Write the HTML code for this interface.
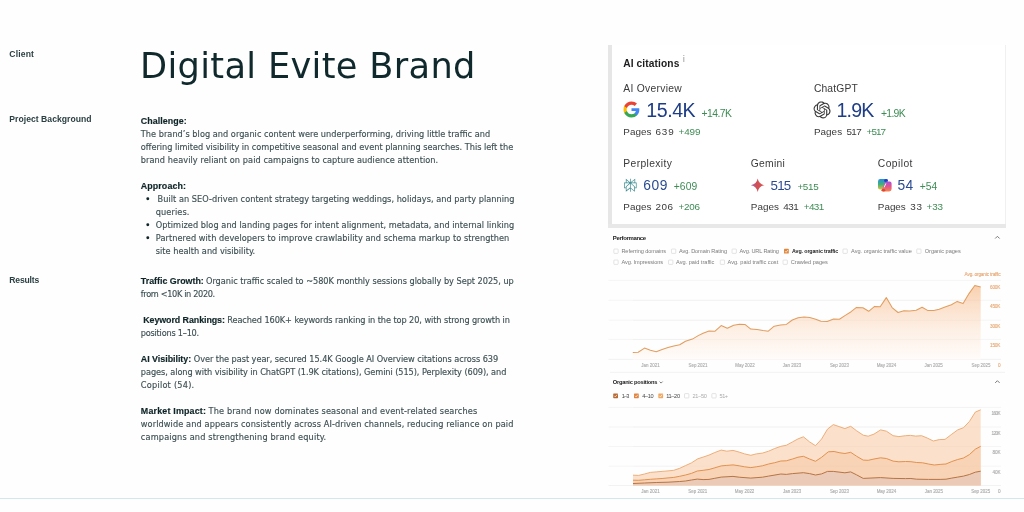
<!DOCTYPE html>
<html lang="en"><head><meta charset="utf-8"><title>Digital Evite Brand – Case Study</title>
<style>
html,body{margin:0;padding:0;background:#fefefe;width:1024px;height:512px;overflow:hidden}
svg{display:block}
text{white-space:pre}
</style></head>
<body>
<svg width="1024" height="512" viewBox="0 0 1024 512" font-family="'Liberation Sans', Arial, sans-serif">
<rect x="612" y="45" width="393" height="179" fill="#ffffff"/>
<rect x="1005" y="45" width="1" height="179" fill="#f0f0f1"/>
<rect x="608" y="45" width="4" height="183" fill="#e6e6e6"/>
<rect x="608" y="224" width="398" height="4" fill="#e8e8e9"/>
<path d="M995.2 238.5 L997.4 236.3 L999.6 238.5" fill="none" stroke="#7a7a7a" stroke-width="1.0"/>
<rect x="613.85" y="249.05" width="4.3" height="4.3" rx="0.5" fill="#fff" stroke="#c9c9c9" stroke-width="0.5"/>
<rect x="671.45" y="249.05" width="4.3" height="4.3" rx="0.5" fill="#fff" stroke="#c9c9c9" stroke-width="0.5"/>
<rect x="732.05" y="249.05" width="4.3" height="4.3" rx="0.5" fill="#fff" stroke="#c9c9c9" stroke-width="0.5"/>
<rect x="784.00" y="248.80" width="4.8" height="4.8" rx="0.6" fill="#e0873f"/>
<path d="M785.10 251.20 L786.10 252.30 L787.80 250.10" fill="none" stroke="#fff" stroke-width="0.7"/>
<rect x="842.95" y="249.05" width="4.3" height="4.3" rx="0.5" fill="#fff" stroke="#c9c9c9" stroke-width="0.5"/>
<rect x="916.75" y="249.05" width="4.3" height="4.3" rx="0.5" fill="#fff" stroke="#c9c9c9" stroke-width="0.5"/>
<rect x="613.85" y="260.05" width="4.3" height="4.3" rx="0.5" fill="#fff" stroke="#c9c9c9" stroke-width="0.5"/>
<rect x="668.55" y="260.05" width="4.3" height="4.3" rx="0.5" fill="#fff" stroke="#c9c9c9" stroke-width="0.5"/>
<rect x="720.25" y="260.05" width="4.3" height="4.3" rx="0.5" fill="#fff" stroke="#c9c9c9" stroke-width="0.5"/>
<rect x="783.05" y="260.05" width="4.3" height="4.3" rx="0.5" fill="#fff" stroke="#c9c9c9" stroke-width="0.5"/>
<line x1="608.5" x2="1001" y1="280.4" y2="280.4" stroke="#f2f2f2" stroke-width="0.8"/>
<line x1="608.5" x2="1001" y1="300.3" y2="300.3" stroke="#f2f2f2" stroke-width="0.8"/>
<line x1="608.5" x2="1001" y1="320.2" y2="320.2" stroke="#f2f2f2" stroke-width="0.8"/>
<line x1="608.5" x2="1001" y1="339.4" y2="339.4" stroke="#f2f2f2" stroke-width="0.8"/>
<line x1="608.5" x2="1001" y1="359.4" y2="359.4" stroke="#efefef" stroke-width="0.8"/>
<defs><linearGradient id="g1" x1="0" y1="280" x2="0" y2="360" gradientUnits="userSpaceOnUse"><stop offset="0" stop-color="#f8cca6"/><stop offset="0.3" stop-color="#fbdfc9"/><stop offset="0.62" stop-color="#fdefe4"/><stop offset="1" stop-color="#fffcfa"/></linearGradient></defs>
<polygon points="632.8,352.5 638.2,352.2 644.5,348.1 650.4,350.2 656.2,351.8 662.1,349.6 668.0,347.6 673.8,345.9 679.7,344.7 685.5,341.2 692.4,339.1 698.2,335.6 703.1,333.2 709.0,331.0 714.8,331.3 721.2,325.6 727.3,328.3 733.7,325.2 739.5,324.2 744.9,324.4 750.8,329.1 757.1,329.5 763.0,330.5 768.3,331.2 774.2,326.2 780.5,324.9 786.4,324.4 792.3,320.0 798.1,317.8 804.0,317.1 809.8,317.6 815.7,319.3 820.9,321.2 827.2,321.4 833.6,319.0 839.4,319.3 845.3,315.4 851.1,311.7 856.5,307.4 862.9,307.8 868.7,311.3 874.6,306.4 880.2,306.8 886.3,297.6 892.1,307.6 898.0,312.5 903.9,310.7 909.7,311.0 916.2,310.2 922.1,307.2 928.0,310.6 933.8,310.4 939.2,309.2 945.0,307.0 951.4,304.8 957.2,301.4 963.1,303.6 969.0,293.6 974.8,285.5 980.7,286.9 980.7,359.4 632.8,359.4" fill="url(#g1)"/>
<line x1="632.8" x2="980.7" y1="300.3" y2="300.3" stroke="#000" stroke-opacity="0.03" stroke-width="0.8"/>
<line x1="632.8" x2="980.7" y1="320.2" y2="320.2" stroke="#000" stroke-opacity="0.03" stroke-width="0.8"/>
<line x1="632.8" x2="980.7" y1="339.4" y2="339.4" stroke="#000" stroke-opacity="0.03" stroke-width="0.8"/>
<polyline points="632.8,352.5 638.2,352.2 644.5,348.1 650.4,350.2 656.2,351.8 662.1,349.6 668.0,347.6 673.8,345.9 679.7,344.7 685.5,341.2 692.4,339.1 698.2,335.6 703.1,333.2 709.0,331.0 714.8,331.3 721.2,325.6 727.3,328.3 733.7,325.2 739.5,324.2 744.9,324.4 750.8,329.1 757.1,329.5 763.0,330.5 768.3,331.2 774.2,326.2 780.5,324.9 786.4,324.4 792.3,320.0 798.1,317.8 804.0,317.1 809.8,317.6 815.7,319.3 820.9,321.2 827.2,321.4 833.6,319.0 839.4,319.3 845.3,315.4 851.1,311.7 856.5,307.4 862.9,307.8 868.7,311.3 874.6,306.4 880.2,306.8 886.3,297.6 892.1,307.6 898.0,312.5 903.9,310.7 909.7,311.0 916.2,310.2 922.1,307.2 928.0,310.6 933.8,310.4 939.2,309.2 945.0,307.0 951.4,304.8 957.2,301.4 963.1,303.6 969.0,293.6 974.8,285.5 980.7,286.9" fill="none" stroke="#e29d5e" stroke-width="1.05" stroke-linejoin="round"/>
<line x1="610" x2="1005" y1="372.4" y2="372.4" stroke="#f0f0f0" stroke-width="0.8"/>
<path d="M659.6 381.6 L661.1 383.1 L662.6 381.6" fill="none" stroke="#444" stroke-width="0.7"/>
<path d="M995.2 382.9 L997.4 380.7 L999.6 382.9" fill="none" stroke="#7a7a7a" stroke-width="1.0"/>
<rect x="613.20" y="393.40" width="4.8" height="4.8" rx="0.6" fill="#b86a35"/>
<path d="M614.30 395.80 L615.30 396.90 L617.00 394.70" fill="none" stroke="#fff" stroke-width="0.7"/>
<rect x="634.00" y="393.40" width="4.8" height="4.8" rx="0.6" fill="#e0843f"/>
<path d="M635.10 395.80 L636.10 396.90 L637.80 394.70" fill="none" stroke="#fff" stroke-width="0.7"/>
<rect x="658.30" y="393.40" width="4.8" height="4.8" rx="0.6" fill="#f0a860"/>
<path d="M659.40 395.80 L660.40 396.90 L662.10 394.70" fill="none" stroke="#fff" stroke-width="0.7"/>
<rect x="684.55" y="393.65" width="4.3" height="4.3" rx="0.5" fill="#fff" stroke="#c9c9c9" stroke-width="0.5"/>
<rect x="711.85" y="393.65" width="4.3" height="4.3" rx="0.5" fill="#fff" stroke="#c9c9c9" stroke-width="0.5"/>
<line x1="608.5" x2="1001" y1="407.4" y2="407.4" stroke="#f2f2f2" stroke-width="0.8"/>
<line x1="608.5" x2="1001" y1="427.0" y2="427.0" stroke="#f2f2f2" stroke-width="0.8"/>
<line x1="608.5" x2="1001" y1="446.5" y2="446.5" stroke="#f2f2f2" stroke-width="0.8"/>
<line x1="608.5" x2="1001" y1="466.2" y2="466.2" stroke="#f2f2f2" stroke-width="0.8"/>
<line x1="608.5" x2="1001" y1="485.5" y2="485.5" stroke="#efefef" stroke-width="0.8"/>
<polygon points="633.0,475.2 638.7,475.4 644.5,474.0 650.4,472.4 656.2,471.9 662.1,471.4 668.0,470.9 673.8,470.3 679.7,468.3 685.5,465.6 691.4,462.9 697.8,458.8 703.1,457.1 709.0,455.1 714.8,452.5 721.2,450.1 726.8,451.2 733.0,450.4 739.2,452.1 744.6,453.9 750.8,455.3 756.3,453.9 762.4,453.1 768.6,451.2 774.7,448.5 780.9,446.3 786.3,445.3 792.5,441.9 798.0,438.9 803.4,436.8 809.6,441.9 815.5,445.7 821.6,439.0 827.5,429.1 833.3,424.6 839.1,426.6 844.9,428.6 850.7,426.3 856.5,430.7 863.2,435.2 868.2,436.2 874.0,434.1 880.6,429.9 886.4,431.2 893.1,435.7 898.9,436.6 905.5,435.7 910.5,435.4 915.7,436.1 921.6,435.7 927.4,438.1 933.3,441.0 939.2,439.6 945.0,439.4 951.8,434.2 957.7,429.9 963.5,427.7 969.4,421.5 975.3,412.1 980.7,409.8 980.7,485.5 633,485.5" fill="#fbe1cb"/>
<polygon points="633.0,480.2 638.7,480.3 644.5,479.8 650.4,479.3 656.2,478.9 662.1,478.5 668.0,477.9 673.8,477.4 679.7,476.3 685.5,475.0 691.4,473.4 697.3,471.0 703.1,470.3 709.0,469.5 714.8,467.8 721.2,465.9 726.8,465.4 733.0,464.9 739.2,465.8 744.6,466.8 750.8,467.6 756.3,466.8 762.4,465.8 768.6,464.0 774.7,462.7 780.9,461.0 786.3,460.8 792.5,459.0 798.0,457.2 803.4,456.3 809.6,459.0 815.5,461.3 821.6,457.3 828.3,451.8 834.1,451.5 839.9,452.8 844.9,453.5 850.7,452.3 856.5,456.2 863.2,460.1 868.2,460.3 874.0,459.0 880.6,457.8 886.4,458.5 893.1,461.1 898.9,461.8 905.5,461.5 910.9,461.7 916.7,462.5 922.6,462.8 928.4,464.0 934.3,465.0 940.1,464.4 946.0,464.0 951.8,461.5 957.7,459.5 963.5,458.0 969.4,454.6 975.3,449.2 980.7,446.3 980.7,485.5 633,485.5" fill="#f9d3b6"/>
<polygon points="633.0,483.5 644.5,483.0 656.2,482.5 668.0,482.2 679.7,481.5 685.5,481.0 691.4,480.0 697.3,479.1 703.1,479.6 709.0,479.4 714.8,478.3 721.2,477.1 733.0,476.4 739.2,477.2 750.8,478.1 762.4,477.2 768.6,476.1 780.9,474.0 786.3,474.4 792.5,473.6 803.4,472.7 809.6,473.6 815.5,475.0 821.6,473.9 827.5,471.4 833.3,471.4 844.9,472.8 850.7,471.9 856.5,474.8 863.2,478.4 880.6,477.6 893.1,478.4 905.5,478.6 910.9,478.5 916.7,479.2 928.4,479.4 940.1,479.4 946.0,479.2 951.8,478.1 957.7,477.1 963.5,476.1 969.4,474.5 975.3,472.2 980.7,471.2 980.7,485.5 633,485.5" fill="#ebcbb7"/>
<line x1="633" x2="980.7" y1="407.4" y2="407.4" stroke="#000" stroke-opacity="0.025" stroke-width="0.8"/>
<line x1="633" x2="980.7" y1="427.0" y2="427.0" stroke="#000" stroke-opacity="0.025" stroke-width="0.8"/>
<line x1="633" x2="980.7" y1="446.5" y2="446.5" stroke="#000" stroke-opacity="0.025" stroke-width="0.8"/>
<line x1="633" x2="980.7" y1="466.2" y2="466.2" stroke="#000" stroke-opacity="0.025" stroke-width="0.8"/>
<polyline points="633.0,475.2 638.7,475.4 644.5,474.0 650.4,472.4 656.2,471.9 662.1,471.4 668.0,470.9 673.8,470.3 679.7,468.3 685.5,465.6 691.4,462.9 697.8,458.8 703.1,457.1 709.0,455.1 714.8,452.5 721.2,450.1 726.8,451.2 733.0,450.4 739.2,452.1 744.6,453.9 750.8,455.3 756.3,453.9 762.4,453.1 768.6,451.2 774.7,448.5 780.9,446.3 786.3,445.3 792.5,441.9 798.0,438.9 803.4,436.8 809.6,441.9 815.5,445.7 821.6,439.0 827.5,429.1 833.3,424.6 839.1,426.6 844.9,428.6 850.7,426.3 856.5,430.7 863.2,435.2 868.2,436.2 874.0,434.1 880.6,429.9 886.4,431.2 893.1,435.7 898.9,436.6 905.5,435.7 910.5,435.4 915.7,436.1 921.6,435.7 927.4,438.1 933.3,441.0 939.2,439.6 945.0,439.4 951.8,434.2 957.7,429.9 963.5,427.7 969.4,421.5 975.3,412.1 980.7,409.8" fill="none" stroke="#eeae78" stroke-width="1.0" stroke-linejoin="round"/>
<polyline points="633.0,480.2 638.7,480.3 644.5,479.8 650.4,479.3 656.2,478.9 662.1,478.5 668.0,477.9 673.8,477.4 679.7,476.3 685.5,475.0 691.4,473.4 697.3,471.0 703.1,470.3 709.0,469.5 714.8,467.8 721.2,465.9 726.8,465.4 733.0,464.9 739.2,465.8 744.6,466.8 750.8,467.6 756.3,466.8 762.4,465.8 768.6,464.0 774.7,462.7 780.9,461.0 786.3,460.8 792.5,459.0 798.0,457.2 803.4,456.3 809.6,459.0 815.5,461.3 821.6,457.3 828.3,451.8 834.1,451.5 839.9,452.8 844.9,453.5 850.7,452.3 856.5,456.2 863.2,460.1 868.2,460.3 874.0,459.0 880.6,457.8 886.4,458.5 893.1,461.1 898.9,461.8 905.5,461.5 910.9,461.7 916.7,462.5 922.6,462.8 928.4,464.0 934.3,465.0 940.1,464.4 946.0,464.0 951.8,461.5 957.7,459.5 963.5,458.0 969.4,454.6 975.3,449.2 980.7,446.3" fill="none" stroke="#e2914e" stroke-width="1.0" stroke-linejoin="round"/>
<polyline points="633.0,483.5 644.5,483.0 656.2,482.5 668.0,482.2 679.7,481.5 685.5,481.0 691.4,480.0 697.3,479.1 703.1,479.6 709.0,479.4 714.8,478.3 721.2,477.1 733.0,476.4 739.2,477.2 750.8,478.1 762.4,477.2 768.6,476.1 780.9,474.0 786.3,474.4 792.5,473.6 803.4,472.7 809.6,473.6 815.5,475.0 821.6,473.9 827.5,471.4 833.3,471.4 844.9,472.8 850.7,471.9 856.5,474.8 863.2,478.4 880.6,477.6 893.1,478.4 905.5,478.6 910.9,478.5 916.7,479.2 928.4,479.4 940.1,479.4 946.0,479.2 951.8,478.1 957.7,477.1 963.5,476.1 969.4,474.5 975.3,472.2 980.7,471.2" fill="none" stroke="#b87444" stroke-width="1.0" stroke-linejoin="round"/>
<rect x="0" y="498" width="1024" height="1" fill="#d3e8ed"/>
<g transform="translate(623.5 101.5) scale(0.3333)">
<path d="M47.5 24.6c0-1.6-.1-3.1-.4-4.6H24v8.7h13.2c-.6 3-2.3 5.5-4.9 7.2v6h7.9c4.6-4.3 7.3-10.5 7.3-17.3z" fill="#4285F4"/>
<path d="M24 48c6.6 0 12.2-2.2 16.2-5.9l-7.9-6c-2.2 1.5-5 2.3-8.3 2.3-6.4 0-11.8-4.3-13.7-10.1H2.2v6.3C6.2 42.5 14.5 48 24 48z" fill="#34A853"/>
<path d="M10.3 28.3c-.5-1.5-.8-3.1-.8-4.3s.3-2.8.8-4.3v-6.3H2.2C.8 16.2 0 20 0 24s.8 7.8 2.2 10.6l8.1-6.3z" fill="#FBBC05"/>
<path d="M24 9.5c3.6 0 6.8 1.2 9.4 3.7l7-7C36.2 2.3 30.6 0 24 0 14.5 0 6.2 5.5 2.2 13.4l8.1 6.3c1.9-5.8 7.3-10.2 13.7-10.2z" fill="#EA4335"/>
</g>
<g transform="translate(813.55 101.4) scale(0.71)"><path fill="#3a3a3a" d="M22.2819 9.8211a5.9847 5.9847 0 0 0-.5157-4.9108 6.0462 6.0462 0 0 0-6.5098-2.9A6.0651 6.0651 0 0 0 4.9807 4.1818a5.9847 5.9847 0 0 0-3.9977 2.9 6.0462 6.0462 0 0 0 .7427 7.0966 5.98 5.98 0 0 0 .511 4.9107 6.051 6.051 0 0 0 6.5146 2.9001A5.9847 5.9847 0 0 0 13.2599 24a6.0557 6.0557 0 0 0 5.7718-4.2058 5.9894 5.9894 0 0 0 3.9977-2.9001 6.0557 6.0557 0 0 0-.7475-7.0729zm-9.022 12.6081a4.4755 4.4755 0 0 1-2.8764-1.0408l.1419-.0804 4.7783-2.7582a.7948.7948 0 0 0 .3927-.6813v-6.7369l2.02 1.1686a.071.071 0 0 1 .038.052v5.5826a4.504 4.504 0 0 1-4.4945 4.4944zm-9.6607-4.1254a4.4708 4.4708 0 0 1-.5346-3.0137l.142.0852 4.783 2.7582a.7712.7712 0 0 0 .7806 0l5.8428-3.3685v2.3324a.0804.0804 0 0 1-.0332.0615L9.74 19.9502a4.4992 4.4992 0 0 1-6.1408-1.6464zM2.3408 7.8956a4.485 4.485 0 0 1 2.3655-1.9728V11.6a.7664.7664 0 0 0 .3879.6765l5.8144 3.3543-2.0201 1.1685a.0757.0757 0 0 1-.071 0l-4.8303-2.7865A4.504 4.504 0 0 1 2.3408 7.872zm16.5963 3.8558L13.1038 8.364 15.1192 7.2a.0757.0757 0 0 1 .071 0l4.8303 2.7913a4.4944 4.4944 0 0 1-.6765 8.1042v-5.6772a.79.79 0 0 0-.407-.667zm2.0107-3.0231l-.142-.0852-4.7735-2.7818a.7759.7759 0 0 0-.7854 0L9.409 9.2297V6.8974a.0662.0662 0 0 1 .0284-.0615l4.8303-2.7866a4.4992 4.4992 0 0 1 6.6802 4.66zM8.3065 12.863l-2.02-1.1638a.0804.0804 0 0 1-.038-.0567V6.0742a4.4992 4.4992 0 0 1 7.3757-3.4537l-.142.0805L8.704 5.459a.7948.7948 0 0 0-.3927.6813zm1.0976-2.3654l2.602-1.4998 2.6069 1.4998v2.9994l-2.5974 1.4997-2.6067-1.4997Z"/></g>
<g transform="translate(623.14 178.7) scale(0.6 0.546)"><path fill="#3b8a8f" d="M22.3977 7.0896h-2.3106V.0676l-7.5094 6.3542V.1577h-1.1554v6.1966L4.4904 0v7.0896H1.6023v10.3976h2.8882V24l6.932-6.1966v6.1966h1.1554v-6.0839l6.9318 6.0839v-6.5127h2.8882V7.0896zm-3.4657-4.531v4.531h-5.355l5.355-4.531zm-13.2862.0676 4.8691 4.4634H5.6458V2.6262zM2.7576 16.332V8.245h7.8476l-6.1149 6.1147v1.9723H2.7576zm2.8882 5.0404v-3.8852h.0001v-2.6488l5.7763-5.7764v7.0111l-5.7764 5.2993zm12.7086.0248-5.7766-5.0474V9.0131l5.7766 5.7766v6.6065zm2.8882-5.0652h-1.733v-1.9723L13.3948 8.245h7.8478v8.087z"/></g>
<defs><linearGradient id="gm" x1="0" y1="0" x2="1" y2="0"><stop offset="0" stop-color="#9468c4"/><stop offset="0.4" stop-color="#cf5058"/><stop offset="1" stop-color="#d9534f"/></linearGradient></defs>
<g transform="translate(750.9 178.6) scale(0.567 0.554)"><path d="M12 0 Q13.9 10.1 24 12 Q13.9 13.9 12 24 Q10.1 13.9 0 12 Q10.1 10.1 12 0Z" fill="url(#gm)"/></g>
<defs>
<linearGradient id="cp1" x1="0" y1="0" x2="0" y2="1"><stop offset="0" stop-color="#2b8ae6"/><stop offset="0.5" stop-color="#3fb27a"/><stop offset="1" stop-color="#e3c23a"/></linearGradient>
<linearGradient id="cp2" x1="0" y1="0" x2="0" y2="1"><stop offset="0" stop-color="#a24fe2"/><stop offset="0.5" stop-color="#e4538c"/><stop offset="1" stop-color="#f3894e"/></linearGradient>
</defs>
<path d="M880.4 179.0 H886.4 Q888.3 179.0 887.7 180.8 L884.6 188.2 Q884.0 189.6 882.4 189.6 H880.0 Q878.0 189.6 878.0 187.6 V181.4 Q878.0 179.0 880.4 179.0Z" fill="url(#cp1)"/>
<ellipse cx="886.0" cy="180.4" rx="2.0" ry="1.5" fill="#1d3fbe"/>
<path d="M889.2 191.4 H883.2 Q881.3 191.4 881.9 189.6 L885.0 182.8 Q885.6 181.4 887.2 181.4 H889.6 Q891.6 181.4 891.6 183.4 V189.0 Q891.6 191.4 889.2 191.4Z" fill="url(#cp2)"/>
<ellipse cx="883.4" cy="190.2" rx="1.9" ry="1.3" fill="#e0462c"/>
<path d="M884.3 187.0 L885.7 183.8" stroke="#fff" stroke-width="0.9" stroke-linecap="round"/>
<text x="9.30" y="57.00" font-size="8.6" fill="#2b3f42" font-weight="700" textLength="24.60" lengthAdjust="spacing">Client</text>
<text x="9.30" y="122.20" font-size="8.6" fill="#2b3f42" font-weight="700" textLength="82.20" lengthAdjust="spacing">Project Background</text>
<text x="9.30" y="282.70" font-size="8.6" fill="#2b3f42" font-weight="700" textLength="30.00" lengthAdjust="spacing">Results</text>
<text x="140.00" y="78.10" font-size="35.2" fill="#10292d" font-family="'DejaVu Sans', 'Liberation Sans', sans-serif" textLength="335.40" lengthAdjust="spacing">Digital Evite Brand</text>
<text x="140.80" y="124.00" font-size="8.9" fill="#0f2427" font-weight="700" textLength="46.00" lengthAdjust="spacing" stroke="#0f2427" stroke-width="0.15">Challenge:</text>
<text x="140.80" y="137.00" font-size="8.2" fill="#3d4f52" font-family="'DejaVu Sans', 'Liberation Sans', sans-serif" textLength="349.40" lengthAdjust="spacing" stroke="#3d4f52" stroke-width="0.14">The brand’s blog and organic content were underperforming, driving little traffic and</text>
<text x="140.80" y="150.00" font-size="8.2" fill="#3d4f52" font-family="'DejaVu Sans', 'Liberation Sans', sans-serif" textLength="372.40" lengthAdjust="spacing" stroke="#3d4f52" stroke-width="0.14">offering limited visibility in competitive seasonal and event planning searches. This left the</text>
<text x="140.80" y="163.00" font-size="8.2" fill="#3d4f52" font-family="'DejaVu Sans', 'Liberation Sans', sans-serif" textLength="297.40" lengthAdjust="spacing" stroke="#3d4f52" stroke-width="0.14">brand heavily reliant on paid campaigns to capture audience attention.</text>
<text x="140.80" y="189.00" font-size="8.9" fill="#0f2427" font-weight="700" textLength="45.10" lengthAdjust="spacing" stroke="#0f2427" stroke-width="0.15">Approach:</text>
<circle cx="147.8" cy="198.70" r="1.45" fill="#0f2427"/>
<circle cx="147.8" cy="224.70" r="1.45" fill="#0f2427"/>
<circle cx="147.8" cy="237.70" r="1.45" fill="#0f2427"/>
<text x="157.60" y="202.00" font-size="8.2" fill="#3d4f52" font-family="'DejaVu Sans', 'Liberation Sans', sans-serif" textLength="356.80" lengthAdjust="spacing" stroke="#3d4f52" stroke-width="0.14">Built an SEO-driven content strategy targeting weddings, holidays, and party planning</text>
<text x="155.80" y="215.00" font-size="8.2" fill="#3d4f52" font-family="'DejaVu Sans', 'Liberation Sans', sans-serif" textLength="33.60" lengthAdjust="spacing" stroke="#3d4f52" stroke-width="0.14">queries.</text>
<text x="155.80" y="228.00" font-size="8.2" fill="#3d4f52" font-family="'DejaVu Sans', 'Liberation Sans', sans-serif" textLength="358.40" lengthAdjust="spacing" stroke="#3d4f52" stroke-width="0.14">Optimized blog and landing pages for intent alignment, metadata, and internal linking</text>
<text x="155.80" y="241.00" font-size="8.2" fill="#3d4f52" font-family="'DejaVu Sans', 'Liberation Sans', sans-serif" textLength="353.40" lengthAdjust="spacing" stroke="#3d4f52" stroke-width="0.14">Partnered with developers to improve crawlability and schema markup to strengthen</text>
<text x="155.80" y="254.00" font-size="8.2" fill="#3d4f52" font-family="'DejaVu Sans', 'Liberation Sans', sans-serif" textLength="99.40" lengthAdjust="spacing" stroke="#3d4f52" stroke-width="0.14">site health and visibility.</text>
<text x="140.80" y="284.00" font-size="8.9" fill="#0f2427" font-weight="700" textLength="63.00" lengthAdjust="spacing" stroke="#0f2427" stroke-width="0.15">Traffic Growth:</text>
<text x="206.00" y="284.00" font-size="8.2" fill="#3d4f52" font-family="'DejaVu Sans', 'Liberation Sans', sans-serif" textLength="307.80" lengthAdjust="spacing" stroke="#3d4f52" stroke-width="0.14">Organic traffic scaled to ~580K monthly sessions globally by Sept 2025, up</text>
<text x="140.80" y="297.00" font-size="8.2" fill="#3d4f52" font-family="'DejaVu Sans', 'Liberation Sans', sans-serif" textLength="74.40" lengthAdjust="spacing" stroke="#3d4f52" stroke-width="0.14">from &lt;10K in 2020.</text>
<text x="143.20" y="323.00" font-size="8.9" fill="#0f2427" font-weight="700" textLength="81.70" lengthAdjust="spacing" stroke="#0f2427" stroke-width="0.15">Keyword Rankings:</text>
<text x="227.20" y="323.00" font-size="8.2" fill="#3d4f52" font-family="'DejaVu Sans', 'Liberation Sans', sans-serif" textLength="282.70" lengthAdjust="spacing" stroke="#3d4f52" stroke-width="0.14">Reached 160K+ keywords ranking in the top 20, with strong growth in</text>
<text x="140.80" y="336.00" font-size="8.2" fill="#3d4f52" font-family="'DejaVu Sans', 'Liberation Sans', sans-serif" textLength="58.40" lengthAdjust="spacing" stroke="#3d4f52" stroke-width="0.14">positions 1–10.</text>
<text x="140.80" y="362.00" font-size="8.9" fill="#0f2427" font-weight="700" textLength="50.40" lengthAdjust="spacing" stroke="#0f2427" stroke-width="0.15">AI Visibility:</text>
<text x="193.80" y="362.00" font-size="8.2" fill="#3d4f52" font-family="'DejaVu Sans', 'Liberation Sans', sans-serif" textLength="304.40" lengthAdjust="spacing" stroke="#3d4f52" stroke-width="0.14">Over the past year, secured 15.4K Google AI Overview citations across 639</text>
<text x="140.80" y="375.00" font-size="8.2" fill="#3d4f52" font-family="'DejaVu Sans', 'Liberation Sans', sans-serif" textLength="365.60" lengthAdjust="spacing" stroke="#3d4f52" stroke-width="0.14">pages, along with visibility in ChatGPT (1.9K citations), Gemini (515), Perplexity (609), and</text>
<text x="140.80" y="388.00" font-size="8.2" fill="#3d4f52" font-family="'DejaVu Sans', 'Liberation Sans', sans-serif" textLength="53.40" lengthAdjust="spacing" stroke="#3d4f52" stroke-width="0.14">Copilot (54).</text>
<text x="140.80" y="414.00" font-size="8.9" fill="#0f2427" font-weight="700" textLength="65.20" lengthAdjust="spacing" stroke="#0f2427" stroke-width="0.15">Market Impact:</text>
<text x="208.60" y="414.00" font-size="8.2" fill="#3d4f52" font-family="'DejaVu Sans', 'Liberation Sans', sans-serif" textLength="268.60" lengthAdjust="spacing" stroke="#3d4f52" stroke-width="0.14">The brand now dominates seasonal and event-related searches</text>
<text x="140.80" y="427.00" font-size="8.2" fill="#3d4f52" font-family="'DejaVu Sans', 'Liberation Sans', sans-serif" textLength="372.60" lengthAdjust="spacing" stroke="#3d4f52" stroke-width="0.14">worldwide and appears consistently across AI-driven channels, reducing reliance on paid</text>
<text x="140.80" y="440.00" font-size="8.2" fill="#3d4f52" font-family="'DejaVu Sans', 'Liberation Sans', sans-serif" textLength="185.40" lengthAdjust="spacing" stroke="#3d4f52" stroke-width="0.14">campaigns and strengthening brand equity.</text>
<text x="623.30" y="66.60" font-size="10.2" fill="#1d1d1f" font-weight="700" textLength="56.00" lengthAdjust="spacing">AI citations</text>
<text x="682.70" y="62.40" font-size="8.0" fill="#8c8c8c" font-family="'DejaVu Sans', 'Liberation Sans', sans-serif">i</text>
<text x="623.30" y="91.60" font-size="10.3" fill="#3a3a3c" textLength="58.50" lengthAdjust="spacing">AI Overview</text>
<text x="646.20" y="116.70" font-size="19.6" fill="#1e3d86" textLength="49.50" lengthAdjust="spacing">15.4K</text>
<text x="701.40" y="116.70" font-size="10.4" fill="#3e8c55" textLength="30.60" lengthAdjust="spacing">+14.7K</text>
<text x="623.30" y="135.30" font-size="9.9" fill="#3a3a3c" textLength="28.20" lengthAdjust="spacing">Pages</text>
<text x="655.50" y="135.30" font-size="9.9" fill="#3a3a3c" textLength="18.20" lengthAdjust="spacing">639</text>
<text x="678.60" y="135.30" font-size="9.9" fill="#3e8c55" textLength="21.80" lengthAdjust="spacing">+499</text>
<text x="813.90" y="91.60" font-size="10.3" fill="#3a3a3c" textLength="43.80" lengthAdjust="spacing">ChatGPT</text>
<text x="836.50" y="116.70" font-size="19.6" fill="#1e3d86" textLength="37.80" lengthAdjust="spacing">1.9K</text>
<text x="881.00" y="116.70" font-size="10.4" fill="#3e8c55" textLength="24.60" lengthAdjust="spacing">+1.9K</text>
<text x="813.90" y="135.30" font-size="9.9" fill="#3a3a3c" textLength="28.20" lengthAdjust="spacing">Pages</text>
<text x="846.50" y="135.30" font-size="9.9" fill="#3a3a3c" textLength="15.20" lengthAdjust="spacing">517</text>
<text x="866.60" y="135.30" font-size="9.9" fill="#3e8c55" textLength="19.40" lengthAdjust="spacing">+517</text>
<text x="623.30" y="166.60" font-size="10.3" fill="#3a3a3c" textLength="48.60" lengthAdjust="spacing">Perplexity</text>
<text x="643.20" y="189.80" font-size="13.8" fill="#2b4c92" textLength="24.30" lengthAdjust="spacing">609</text>
<text x="673.70" y="189.80" font-size="10.3" fill="#3e8c55" textLength="23.50" lengthAdjust="spacing">+609</text>
<text x="623.30" y="209.70" font-size="9.9" fill="#3a3a3c" textLength="28.20" lengthAdjust="spacing">Pages</text>
<text x="655.50" y="209.70" font-size="9.9" fill="#3a3a3c" textLength="17.60" lengthAdjust="spacing">206</text>
<text x="678.60" y="209.70" font-size="9.9" fill="#3e8c55" textLength="21.40" lengthAdjust="spacing">+206</text>
<text x="750.80" y="166.60" font-size="10.3" fill="#3a3a3c" textLength="34.00" lengthAdjust="spacing">Gemini</text>
<text x="770.60" y="189.80" font-size="13.3" fill="#2b4c92" textLength="20.60" lengthAdjust="spacing">515</text>
<text x="797.40" y="189.80" font-size="9.9" fill="#3e8c55" textLength="21.30" lengthAdjust="spacing">+515</text>
<text x="750.80" y="209.70" font-size="9.9" fill="#3a3a3c" textLength="28.20" lengthAdjust="spacing">Pages</text>
<text x="783.20" y="209.70" font-size="9.9" fill="#3a3a3c" textLength="15.60" lengthAdjust="spacing">431</text>
<text x="803.80" y="209.70" font-size="9.9" fill="#3e8c55" textLength="20.40" lengthAdjust="spacing">+431</text>
<text x="877.80" y="166.60" font-size="10.3" fill="#3a3a3c" textLength="34.60" lengthAdjust="spacing">Copilot</text>
<text x="897.60" y="189.80" font-size="13.8" fill="#2b4c92" textLength="15.60" lengthAdjust="spacing">54</text>
<text x="919.70" y="189.80" font-size="10.3" fill="#3e8c55" textLength="17.50" lengthAdjust="spacing">+54</text>
<text x="877.80" y="209.70" font-size="9.9" fill="#3a3a3c" textLength="28.00" lengthAdjust="spacing">Pages</text>
<text x="910.20" y="209.70" font-size="9.9" fill="#3a3a3c" textLength="11.80" lengthAdjust="spacing">33</text>
<text x="926.60" y="209.70" font-size="9.9" fill="#3e8c55" textLength="16.40" lengthAdjust="spacing">+33</text>
<text x="612.80" y="239.80" font-size="6.0" fill="#222" font-weight="700" textLength="33.40" lengthAdjust="spacing">Performance</text>
<text x="621.40" y="253.20" font-size="5.6" fill="#7b7b7b" textLength="44.60" lengthAdjust="spacing">Referring domains</text>
<text x="679.00" y="253.20" font-size="5.6" fill="#7b7b7b" textLength="48.00" lengthAdjust="spacing">Avg. Domain Rating</text>
<text x="739.60" y="253.20" font-size="5.6" fill="#7b7b7b" textLength="39.20" lengthAdjust="spacing">Avg. URL Rating</text>
<text x="792.00" y="253.20" font-size="5.3" fill="#222" font-weight="700" textLength="46.20" lengthAdjust="spacing">Avg. organic traffic</text>
<text x="851.10" y="253.20" font-size="5.6" fill="#7b7b7b" textLength="60.70" lengthAdjust="spacing">Avg. organic traffic value</text>
<text x="924.80" y="253.20" font-size="5.6" fill="#7b7b7b" textLength="35.90" lengthAdjust="spacing">Organic pages</text>
<text x="621.40" y="264.20" font-size="5.6" fill="#7b7b7b" textLength="41.60" lengthAdjust="spacing">Avg. Impressions</text>
<text x="676.10" y="264.20" font-size="5.6" fill="#7b7b7b" textLength="38.30" lengthAdjust="spacing">Avg. paid traffic</text>
<text x="727.50" y="264.20" font-size="5.6" fill="#7b7b7b" textLength="50.70" lengthAdjust="spacing">Avg. paid traffic cost</text>
<text x="790.80" y="264.20" font-size="5.6" fill="#7b7b7b" textLength="37.10" lengthAdjust="spacing">Crawled pages</text>
<text x="964.60" y="276.00" font-size="4.7" fill="#e7a773" textLength="36.00" lengthAdjust="spacing" stroke="#e7a773" stroke-width="0.12">Avg. organic traffic</text>
<text x="989.90" y="288.50" font-size="4.7" fill="#e7a773" textLength="10.60" lengthAdjust="spacing" stroke="#e7a773" stroke-width="0.12">600K</text>
<text x="989.90" y="308.30" font-size="4.7" fill="#e7a773" textLength="10.60" lengthAdjust="spacing" stroke="#e7a773" stroke-width="0.12">450K</text>
<text x="989.90" y="327.80" font-size="4.7" fill="#e7a773" textLength="10.60" lengthAdjust="spacing" stroke="#e7a773" stroke-width="0.12">300K</text>
<text x="989.90" y="347.40" font-size="4.7" fill="#e7a773" textLength="10.60" lengthAdjust="spacing" stroke="#e7a773" stroke-width="0.12">150K</text>
<text x="1000.60" y="366.90" font-size="4.7" fill="#e7a773" text-anchor="end" stroke="#e7a773" stroke-width="0.12">0</text>
<text x="650.50" y="366.90" font-size="4.45" fill="#acacac" text-anchor="middle" stroke="#acacac" stroke-width="0.12">Jan 2021</text>
<text x="698.00" y="366.90" font-size="4.45" fill="#acacac" text-anchor="middle" stroke="#acacac" stroke-width="0.12">Sep 2021</text>
<text x="745.00" y="366.90" font-size="4.45" fill="#acacac" text-anchor="middle" stroke="#acacac" stroke-width="0.12">May 2022</text>
<text x="792.00" y="366.90" font-size="4.45" fill="#acacac" text-anchor="middle" stroke="#acacac" stroke-width="0.12">Jan 2023</text>
<text x="839.40" y="366.90" font-size="4.45" fill="#acacac" text-anchor="middle" stroke="#acacac" stroke-width="0.12">Sep 2023</text>
<text x="886.40" y="366.90" font-size="4.45" fill="#acacac" text-anchor="middle" stroke="#acacac" stroke-width="0.12">May 2024</text>
<text x="933.70" y="366.90" font-size="4.45" fill="#acacac" text-anchor="middle" stroke="#acacac" stroke-width="0.12">Jan 2025</text>
<text x="981.00" y="366.90" font-size="4.45" fill="#acacac" text-anchor="middle" stroke="#acacac" stroke-width="0.12">Sep 2025</text>
<text x="612.80" y="384.40" font-size="5.7" fill="#222" font-weight="700" textLength="44.60" lengthAdjust="spacing">Organic positions</text>
<text x="621.70" y="397.80" font-size="5.6" fill="#444" textLength="7.60" lengthAdjust="spacing">1–3</text>
<text x="642.20" y="397.80" font-size="5.6" fill="#444" textLength="11.30" lengthAdjust="spacing">4–10</text>
<text x="666.30" y="397.80" font-size="5.6" fill="#444" textLength="13.70" lengthAdjust="spacing">11–20</text>
<text x="692.50" y="397.80" font-size="5.6" fill="#aaa" textLength="14.40" lengthAdjust="spacing">21–50</text>
<text x="719.60" y="397.80" font-size="5.6" fill="#aaa" textLength="8.40" lengthAdjust="spacing">51+</text>
<text x="991.60" y="415.30" font-size="4.7" fill="#acacac" textLength="9.00" lengthAdjust="spacing" stroke="#acacac" stroke-width="0.12">160K</text>
<text x="991.60" y="434.80" font-size="4.7" fill="#acacac" textLength="9.00" lengthAdjust="spacing" stroke="#acacac" stroke-width="0.12">120K</text>
<text x="992.60" y="454.30" font-size="4.7" fill="#acacac" textLength="8.00" lengthAdjust="spacing" stroke="#acacac" stroke-width="0.12">80K</text>
<text x="992.60" y="473.80" font-size="4.7" fill="#acacac" textLength="8.00" lengthAdjust="spacing" stroke="#acacac" stroke-width="0.12">40K</text>
<text x="1000.60" y="493.10" font-size="4.7" fill="#acacac" text-anchor="end" stroke="#acacac" stroke-width="0.12">0</text>
<text x="650.50" y="493.10" font-size="4.45" fill="#acacac" text-anchor="middle" stroke="#acacac" stroke-width="0.12">Jan 2021</text>
<text x="697.80" y="493.10" font-size="4.45" fill="#acacac" text-anchor="middle" stroke="#acacac" stroke-width="0.12">Sep 2021</text>
<text x="744.60" y="493.10" font-size="4.45" fill="#acacac" text-anchor="middle" stroke="#acacac" stroke-width="0.12">May 2022</text>
<text x="792.10" y="493.10" font-size="4.45" fill="#acacac" text-anchor="middle" stroke="#acacac" stroke-width="0.12">Jan 2023</text>
<text x="839.40" y="493.10" font-size="4.45" fill="#acacac" text-anchor="middle" stroke="#acacac" stroke-width="0.12">Sep 2023</text>
<text x="886.40" y="493.10" font-size="4.45" fill="#acacac" text-anchor="middle" stroke="#acacac" stroke-width="0.12">May 2024</text>
<text x="933.90" y="493.10" font-size="4.45" fill="#acacac" text-anchor="middle" stroke="#acacac" stroke-width="0.12">Jan 2025</text>
<text x="980.70" y="493.10" font-size="4.45" fill="#acacac" text-anchor="middle" stroke="#acacac" stroke-width="0.12">Sep 2025</text>
</svg>
</body></html>
